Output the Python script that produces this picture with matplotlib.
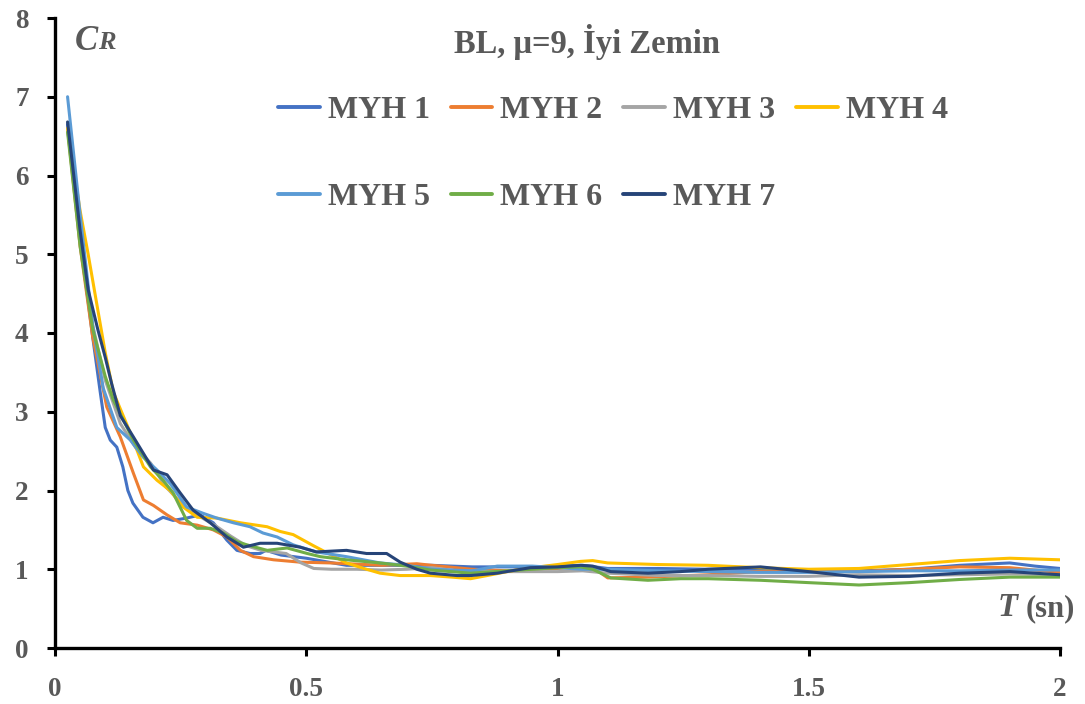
import matplotlib
matplotlib.use("Agg")
import matplotlib.pyplot as plt

# Period (s) and reduction coefficient C_R for each record
T_1 = [0.025, 0.05, 0.075, 0.09, 0.1, 0.11, 0.123, 0.135, 0.145, 0.155, 0.175, 0.195, 0.215, 0.235,
       0.262, 0.289, 0.315, 0.342, 0.362, 0.388, 0.408, 0.42, 0.45, 0.5, 0.58, 0.65, 0.75, 0.83,
       0.95, 1.05, 1.1, 1.2, 1.3, 1.4, 1.5, 1.6, 1.7, 1.8, 1.9, 1.95, 2.0]
C_1 = [6.65, 5.2, 3.95, 3.25, 2.8, 2.64, 2.55, 2.3, 2.0, 1.84, 1.66, 1.59, 1.66, 1.62,
       1.65, 1.69, 1.59, 1.37, 1.24, 1.2, 1.2, 1.24, 1.18, 1.14, 1.05, 1.05, 1.05, 1.03,
       1.03, 1.05, 1.01, 1.01, 1.0, 1.0, 0.99, 0.98, 1.0, 1.05, 1.08, 1.04, 1.01]

T_2 = [0.025, 0.05, 0.075, 0.103, 0.13, 0.156, 0.176, 0.196, 0.223, 0.249, 0.283, 0.315, 0.342,
       0.369, 0.395, 0.435, 0.488, 0.55, 0.65, 0.72, 0.75, 0.83, 0.9, 0.95, 1.0, 1.05, 1.08, 1.1,
       1.18, 1.3, 1.4, 1.5, 1.6, 1.7, 1.8, 1.9, 2.0]
C_2 = [6.6, 5.1, 3.95, 3.06, 2.68, 2.22, 1.88, 1.81, 1.69, 1.59, 1.56, 1.5, 1.41,
       1.24, 1.16, 1.12, 1.09, 1.08, 1.05, 1.07, 1.05, 1.0, 0.98, 1.0, 1.01, 1.03, 0.98, 0.89,
       0.9, 0.93, 0.97, 0.97, 0.97, 1.0, 1.03, 1.02, 0.96]

T_3 = [0.025, 0.05, 0.075, 0.1, 0.13, 0.16, 0.19, 0.22, 0.25, 0.28, 0.32, 0.35, 0.38, 0.41,
       0.46, 0.49, 0.515, 0.55, 0.6, 0.65, 0.7, 0.75, 0.8, 0.9, 1.0, 1.05, 1.1, 1.2, 1.3, 1.4,
       1.5, 1.6, 1.7, 1.8, 1.9, 2.0]
C_3 = [6.6, 5.3, 4.1, 3.4, 2.85, 2.55, 2.35, 2.05, 1.85, 1.7, 1.55, 1.42, 1.3, 1.24,
       1.2, 1.08, 1.01, 1.0, 1.0, 0.99, 1.0, 1.02, 0.98, 0.97, 0.97, 0.98, 0.95, 0.92, 0.92, 0.91,
       0.91, 0.93, 0.92, 0.93, 0.94, 0.93]

T_4 = [0.025, 0.05, 0.066, 0.085, 0.1, 0.116, 0.15, 0.176, 0.203, 0.229, 0.255, 0.283, 0.322,
       0.369, 0.422, 0.448, 0.474, 0.514, 0.55, 0.58, 0.62, 0.647, 0.687, 0.747, 0.79, 0.827,
       0.86, 0.9, 0.95, 1.0, 1.046, 1.07, 1.1, 1.2, 1.3, 1.4, 1.5, 1.6, 1.7, 1.8, 1.9, 1.95, 2.0]
C_4 = [6.6, 5.55, 5.0, 4.3, 3.75, 3.25, 2.73, 2.3, 2.13, 2.0, 1.79, 1.66, 1.65,
       1.59, 1.54, 1.48, 1.44, 1.3, 1.18, 1.08, 1.0, 0.95, 0.92, 0.92, 0.9, 0.88,
       0.92, 0.97, 1.02, 1.06, 1.1, 1.11, 1.08, 1.06, 1.05, 1.02, 1.0, 1.01, 1.06, 1.11, 1.14, 1.13, 1.12]

T_5 = [0.025, 0.05, 0.075, 0.096, 0.123, 0.15, 0.176, 0.203, 0.229, 0.262, 0.295, 0.322, 0.355,
       0.388, 0.414, 0.442, 0.474, 0.52, 0.58, 0.647, 0.7, 0.75, 0.83, 0.88, 0.95, 1.0, 1.05,
       1.1, 1.2, 1.3, 1.4, 1.5, 1.6, 1.7, 1.8, 1.9, 2.0]
C_5 = [7.0, 5.5, 4.1, 3.3, 2.8, 2.64, 2.42, 2.26, 2.09, 1.79, 1.71, 1.65, 1.59,
       1.54, 1.46, 1.41, 1.31, 1.22, 1.16, 1.08, 1.05, 1.0, 0.98, 1.04, 1.04, 1.02, 1.0,
       1.0, 0.98, 0.97, 0.96, 0.96, 0.97, 0.98, 0.98, 0.99, 0.99]

T_6 = [0.025, 0.05, 0.075, 0.1, 0.116, 0.156, 0.19, 0.215, 0.235, 0.262, 0.283, 0.309, 0.335,
       0.362, 0.382, 0.422, 0.462, 0.502, 0.528, 0.58, 0.647, 0.7, 0.747, 0.827, 0.9, 0.95, 1.0,
       1.046, 1.07, 1.106, 1.18, 1.245, 1.3, 1.404, 1.5, 1.6, 1.7, 1.8, 1.9, 2.0]
C_6 = [6.55, 5.1, 4.05, 3.45, 3.15, 2.64, 2.3, 2.13, 1.97, 1.62, 1.52, 1.52, 1.46,
       1.35, 1.31, 1.24, 1.27, 1.2, 1.16, 1.12, 1.08, 1.04, 0.99, 0.95, 0.98, 1.0, 1.02,
       1.03, 1.0, 0.89, 0.86, 0.88, 0.88, 0.86, 0.83, 0.8, 0.83, 0.87, 0.9, 0.9]

T_7 = [0.025, 0.05, 0.066, 0.085, 0.1, 0.113, 0.13, 0.156, 0.176, 0.196, 0.223, 0.249, 0.275,
       0.309, 0.342, 0.375, 0.408, 0.442, 0.488, 0.52, 0.58, 0.62, 0.66, 0.687, 0.72, 0.747, 0.8,
       0.827, 0.88, 0.946, 1.0, 1.046, 1.07, 1.106, 1.18, 1.245, 1.3, 1.404, 1.5, 1.6, 1.7, 1.8,
       1.9, 2.0]
C_7 = [6.68, 5.3, 4.55, 4.05, 3.69, 3.35, 2.95, 2.68, 2.47, 2.26, 2.2, 1.97, 1.75,
       1.59, 1.41, 1.28, 1.33, 1.33, 1.28, 1.22, 1.24, 1.2, 1.2, 1.09, 1.0, 0.95, 0.92,
       0.92, 0.95, 1.02, 1.03, 1.05, 1.04, 0.97, 0.95, 0.97, 1.0, 1.03, 0.97, 0.9, 0.91, 0.95,
       0.97, 0.93]

labels = ["MYH 1", "MYH 2", "MYH 3", "MYH 4", "MYH 5", "MYH 6", "MYH 7"]
colors = ["#4472C4", "#ED7D31", "#A5A5A5", "#FFC000", "#5B9BD5", "#70AD47", "#264478"]
series = [(T_1, C_1), (T_2, C_2), (T_3, C_3), (T_4, C_4), (T_5, C_5), (T_6, C_6), (T_7, C_7)]

x_ticks = [0, 0.5, 1, 1.5, 2]
x_ticklabels = ["0", "0.5", "1", "1.5", "2"]
y_ticks = [0, 1, 2, 3, 4, 5, 6, 7, 8]

title_text = "BL, μ=9, İyi Zemin"
text_grey = "#595959"
serif = ["Liberation Serif", "DejaVu Serif"]

fig = plt.figure(figsize=(10.85, 7.04), dpi=100)
ax = fig.add_axes([55 / 1085, 56 / 704, 1005 / 1085, 630 / 704])

handles = []
for (t, c), lab, col in zip(series, labels, colors):
    h, = ax.plot(t, c, color=col, lw=2.2, label=lab, solid_joinstyle="round",
                 solid_capstyle="round")
    handles.append(h)

ax.set_xlim(0, 2)
ax.set_ylim(0, 8)
ax.set_xticks(x_ticks)
ax.set_xticklabels(x_ticklabels)
ax.set_yticks(y_ticks)

for side in ("top", "right"):
    ax.spines[side].set_visible(False)
for side in ("left", "bottom"):
    ax.spines[side].set_linewidth(2.4)
    ax.spines[side].set_color("black")

ax.tick_params(axis="both", direction="out", length=6, width=2.2, color="black",
               labelcolor=text_grey)
for lab in ax.get_xticklabels() + ax.get_yticklabels():
    lab.set_fontfamily(serif)
    lab.set_fontweight("bold")
    lab.set_fontsize(19.5)
ax.tick_params(axis="y", pad=13)
ax.tick_params(axis="x", pad=15)

# Title inside the plotting area
ax.text(0.529, 0.962, title_text, transform=ax.transAxes, ha="center", va="center",
        fontsize=23.5, fontweight="bold", family=serif, color=text_grey)

# Axis captions: C_R at top-left, T (sn) at bottom-right
c_txt = ax.text(20 / 1005, 0.962, "C", transform=ax.transAxes, ha="left", va="center",
                fontsize=25, fontweight="bold", style="italic", family=serif, color=text_grey)
ax.annotate("R", xy=(1, 0.14), xycoords=c_txt, xytext=(0, 0), textcoords="offset points",
            ha="left", va="bottom", fontsize=19, fontweight="bold", style="italic",
            family=serif, color=text_grey)

t_txt = ax.text(1.015, 0.051, "(sn)", transform=ax.transAxes, ha="right", va="baseline",
                fontsize=22, fontweight="bold", family=serif, color=text_grey)
ax.annotate("T ", xy=(0, 0), xycoords=t_txt, xytext=(0, 0), textcoords="offset points",
            ha="right", va="bottom", fontsize=23.5, fontweight="bold", style="italic",
            family=serif, color=text_grey)

# Legend laid out in rows of four
order = [0, 4, 1, 5, 2, 6, 3]
leg = ax.legend([handles[i] for i in order], [labels[i] for i in order], ncol=4,
                loc="upper left", bbox_to_anchor=(223 / 1005, 0.877), frameon=False,
                prop={"family": serif, "weight": "bold", "size": 23},
                handlelength=1.3, handletextpad=0.25, columnspacing=0.66,
                labelspacing=1.8, borderaxespad=0, borderpad=0)
for txt in leg.get_texts():
    txt.set_color(text_grey)
for lh in leg.get_lines():
    lh.set_linewidth(2.8)

fig.savefig("out.png", dpi=100, facecolor="white")
